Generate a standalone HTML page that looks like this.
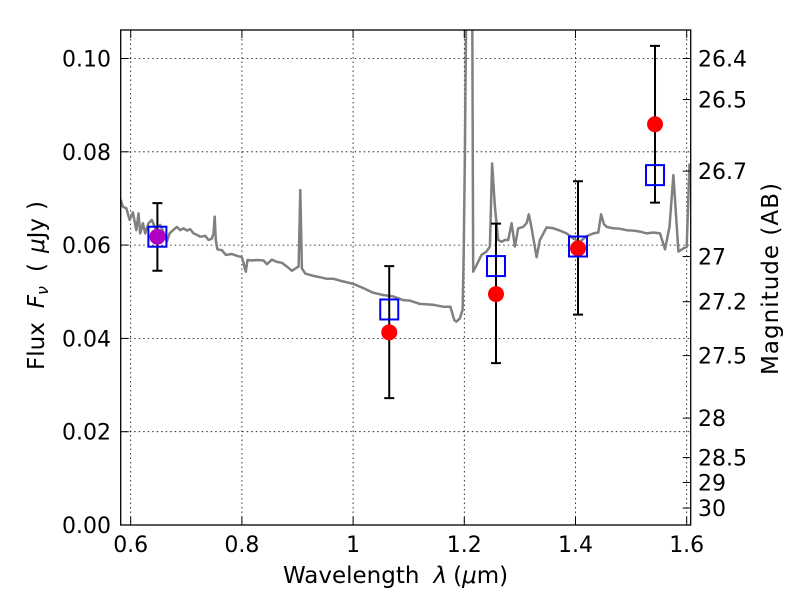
<!DOCTYPE html>
<html><head><meta charset="utf-8"><style>
body{margin:0;background:#fff}
svg text{font-family:"DejaVu Sans","Liberation Sans",sans-serif;fill:#000}
</style></head><body>
<svg id="chart" width="800" height="600" xmlns="http://www.w3.org/2000/svg">
<defs><clipPath id="clip"><rect x="120.7" y="30" width="570" height="495"/></clipPath></defs>
<rect width="800" height="600" fill="#fff"/>
<g id="grid"></g>
<g id="spec" clip-path="url(#clip)"></g>
<g id="marks"></g>
<rect x="120.7" y="30" width="570" height="495" fill="none" stroke="#000" stroke-width="1.3"/>
<g id="axes"></g>
<text x="283" y="583" font-size="23">Wavelength<tspan dx="14" font-style="italic">λ</tspan><tspan dx="6">(</tspan><tspan font-style="italic">μ</tspan>m)</text>
<text transform="translate(44,370) rotate(-90)" font-size="23">Flux<tspan dx="14" font-style="italic">F</tspan><tspan font-style="italic" font-size="16" dy="4">ν</tspan><tspan dy="-4" dx="14">(</tspan><tspan dx="10" font-style="italic">μ</tspan>Jy<tspan dx="8">)</tspan></text>
<text transform="translate(778,375) rotate(-90)" font-size="23" textLength="192">Magnitude (AB)</text>
</svg>
<script>
const specWave=[0.582,0.586,0.592,0.598,0.604,0.610,0.614,0.617,0.622,0.626,0.632,0.638,0.644,0.653,0.660,0.665,0.670,0.676,0.683,0.689,0.695,0.701,0.707,0.713,0.719,0.725,0.734,0.740,0.746,0.749,0.751,0.753,0.756,0.764,0.771,0.782,0.791,0.800,0.804,0.807,0.810,0.818,0.827,0.839,0.845,0.854,0.863,0.872,0.881,0.890,0.899,0.902,0.905,0.908,0.914,0.929,0.941,0.952,0.964,0.976,1.000,1.018,1.036,1.054,1.072,1.090,1.102,1.120,1.144,1.162,1.175,1.182,1.186,1.192,1.197,1.199,1.201,1.203,1.209,1.214,1.216,1.222,1.231,1.240,1.246,1.250,1.255,1.261,1.267,1.273,1.279,1.285,1.291,1.297,1.306,1.312,1.316,1.321,1.330,1.336,1.348,1.360,1.372,1.384,1.396,1.408,1.420,1.432,1.441,1.446,1.451,1.456,1.468,1.480,1.492,1.504,1.516,1.528,1.540,1.552,1.561,1.569,1.576,1.585,1.594,1.600,1.605];
const specFlux=[0.0697,0.0682,0.0679,0.0654,0.0670,0.0632,0.0668,0.0625,0.0647,0.0625,0.0647,0.0654,0.0636,0.0643,0.0625,0.0607,0.0625,0.0632,0.0639,0.0632,0.0636,0.0631,0.0634,0.0625,0.0622,0.0618,0.0620,0.0611,0.0614,0.0625,0.0661,0.0611,0.0591,0.0589,0.0579,0.0581,0.0577,0.0574,0.0557,0.0543,0.0568,0.0567,0.0568,0.0567,0.0559,0.0569,0.0564,0.0562,0.0554,0.0545,0.0552,0.0554,0.0718,0.0550,0.0539,0.0534,0.0531,0.0528,0.0528,0.0524,0.0517,0.0508,0.0498,0.0493,0.0490,0.0482,0.0481,0.0474,0.0472,0.0468,0.0468,0.0439,0.0436,0.0443,0.0461,0.0582,0.0797,0.1061,0.2,0.12,0.0543,0.0557,0.0579,0.0586,0.0597,0.0775,0.0682,0.0611,0.0607,0.0611,0.0611,0.0647,0.0597,0.0636,0.0639,0.0647,0.0666,0.0636,0.0574,0.0611,0.0638,0.0636,0.0631,0.0625,0.0614,0.0607,0.0619,0.0625,0.0627,0.0666,0.0645,0.0639,0.0636,0.0635,0.0632,0.0631,0.0629,0.0625,0.0627,0.0625,0.0591,0.0639,0.0750,0.0586,0.0593,0.0596,0.0775];
const bandWave=[0.648,1.065,1.257,1.4045,1.543];
const obsFlux=[0.0618,0.0413,0.0495,0.0593,0.0859];
const errHi=[0.069,0.0555,0.0646,0.0737,0.1027];
const errLo=[0.0545,0.0272,0.0347,0.0451,0.0691];
const modelFlux=[0.0618,0.0462,0.0555,0.0597,0.075];
const xTicks=[0.6,0.8,1.0,1.2,1.4,1.6];
const xTickLabels=["0.6","0.8","1","1.2","1.4","1.6"];
const yTicks=[0,0.02,0.04,0.06,0.08,0.10];
const yTickLabels=["0.00","0.02","0.04","0.06","0.08","0.10"];
const magTicks=[26.4,26.5,26.7,27,27.2,27.5,28,28.5,29,30];

const X=v=>130.7+(v-0.6)*556;
const Y=v=>525-v*4665;
const NS="http://www.w3.org/2000/svg";
function mk(tag,attrs,parent){const e=document.createElementNS(NS,tag);for(const k in attrs)e.setAttribute(k,attrs[k]);document.getElementById(parent).appendChild(e);return e;}

xTicks.forEach((t,i)=>{
  const g=mk('line',{x1:X(t),x2:X(t),y1:30,y2:525,stroke:'#000','stroke-width':0.8,'stroke-dasharray':'1.5,3'},'grid');
  
  
  mk('line',{x1:X(t),x2:X(t),y1:525,y2:517,stroke:'#000','stroke-width':1},'axes');
  mk('line',{x1:X(t),x2:X(t),y1:30,y2:38,stroke:'#000','stroke-width':1},'axes');
  const tx=mk('text',{x:X(t),y:552,'text-anchor':'middle','font-size':22},'axes');
  tx.textContent=xTickLabels[i];
  
  
});
yTicks.forEach((t,i)=>{
  const g=mk('line',{x1:120.7,x2:690.7,y1:Y(t),y2:Y(t),stroke:'#000','stroke-width':0.8,'stroke-dasharray':'1.5,3'},'grid');
  
  
  mk('line',{x1:120.7,x2:128.7,y1:Y(t),y2:Y(t),stroke:'#000','stroke-width':1},'axes');
  const tx=mk('text',{x:111,y:Y(t)+8,'text-anchor':'end','font-size':22},'axes');
  tx.textContent=yTickLabels[i];
  
  
});
magTicks.forEach(m=>{
  const f=Math.pow(10,(23.9-m)/2.5);
  mk('line',{x1:682.7,x2:690.7,y1:Y(f),y2:Y(f),stroke:'#000','stroke-width':1},'axes');
  const tx=mk('text',{x:698,y:Y(f)+8,'font-size':22},'axes');
  tx.textContent=String(m);
  
  
});
const path=mk('path',{d:specWave.map((w,i)=>(i?'L':'M')+X(w).toFixed(1)+','+Y(specFlux[i]).toFixed(1)).join(''),fill:'none',stroke:'#808080','stroke-width':2.5,'stroke-linejoin':'round'},'spec');


bandWave.forEach((w,i)=>{
  const x=X(w);
  const e=mk('path',{d:`M${x},${Y(errHi[i])}V${Y(errLo[i])}M${x-5},${Y(errHi[i])}h10M${x-5},${Y(errLo[i])}h10`,stroke:'#000','stroke-width':2,fill:'none'},'marks');
  
  
  const c=mk('circle',{cx:x,cy:Y(obsFlux[i]),r:8,fill:i===0?'#b000c0':'#ff0000'},'marks');
  
  
  const s=mk('rect',{x:x-9,y:Y(modelFlux[i])-10,width:18,height:20,fill:'none',stroke:'#0000ff','stroke-width':2},'marks');
  
  
});
</script>
</body></html>
